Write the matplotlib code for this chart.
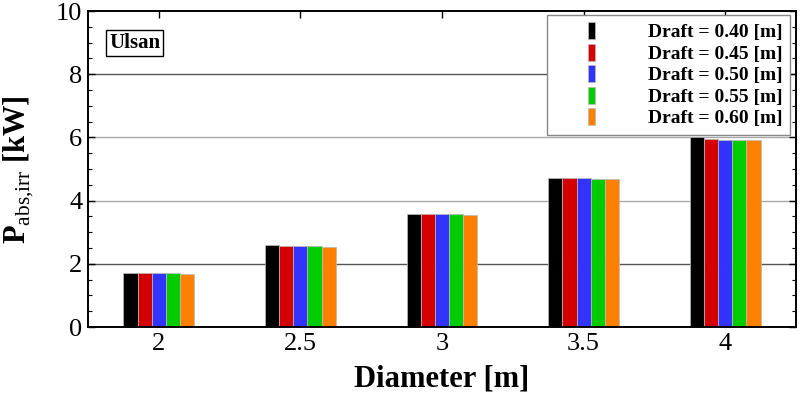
import matplotlib

matplotlib.use("Agg")
import matplotlib.pyplot as plt
import numpy as np
from matplotlib.legend_handler import HandlerPatch
from matplotlib.patches import Rectangle
from matplotlib.ticker import MultipleLocator

plt.rcParams["font.family"] = "Liberation Serif"
plt.rcParams["mathtext.fontset"] = "custom"
plt.rcParams["mathtext.rm"] = "Liberation Serif"
plt.rcParams["mathtext.bf"] = "Liberation Serif:bold"

diameters = [2.0, 2.5, 3.0, 3.5, 4.0]
draft_labels = [
    "Draft = 0.40 [m]",
    "Draft = 0.45 [m]",
    "Draft = 0.50 [m]",
    "Draft = 0.55 [m]",
    "Draft = 0.60 [m]",
]
p_draft_040 = [1.70, 2.59, 3.59, 4.73, 6.01]
p_draft_045 = [1.70, 2.56, 3.59, 4.71, 5.95]
p_draft_050 = [1.70, 2.56, 3.59, 4.71, 5.93]
p_draft_055 = [1.70, 2.56, 3.58, 4.69, 5.93]
p_draft_060 = [1.67, 2.54, 3.55, 4.69, 5.92]
series = [p_draft_040, p_draft_045, p_draft_050, p_draft_055, p_draft_060]
colors = ["#000000", "#d40000", "#3333ff", "#00cc00", "#ff8000"]


def narrow_box(legend, orig_handle, xdescent, ydescent, width, height, fontsize):
    w = 0.36 * fontsize
    h = 0.88 * fontsize
    return Rectangle(
        (-xdescent + width / 2 - w / 2, -ydescent + height / 2 - h / 2), w, h
    )


fig = plt.figure(figsize=(8, 3.96), dpi=100)
ax = fig.add_axes([0.11, 0.174, 0.885, 0.798])

bar_w = 0.05
x = np.array(diameters)
bars = []
for i, (vals, color) in enumerate(zip(series, colors)):
    b = ax.bar(
        x + (i - 2) * bar_w,
        vals,
        bar_w,
        color=color,
        edgecolor="#bbbbbb",
        linewidth=0.5,
        zorder=3,
    )
    bars.append(b)

# horizontal grid, 2 and 8 drawn darker as in the original
for yv, gc in zip([2, 4, 6, 8], ["#555555", "#aaaaaa", "#aaaaaa", "#555555"]):
    ax.axhline(yv, color=gc, linewidth=1.0, zorder=1)

ax.set_xlim(1.75, 4.25)
ax.set_ylim(0, 10)
ax.set_xticks(diameters)
ax.set_xticklabels(["2", "2.5", "3", "3.5", "4"])
ax.yaxis.set_major_locator(MultipleLocator(2))
ax.yaxis.set_minor_locator(MultipleLocator(0.5))
ax.tick_params(axis="both", which="major", direction="in", length=5, width=1,
               labelsize=19, top=True, right=True, pad=4)
ax.tick_params(axis="y", which="minor", direction="in", length=3, width=0.8,
               right=True, left=True)
for s in ax.spines.values():
    s.set_linewidth(1.4)
    s.set_zorder(4)

ax.set_xlabel("Diameter [m]", fontsize=22, fontweight="bold", labelpad=7)
ax.set_ylabel(r"$\mathbf{P}_{\mathrm{abs{,}irr}}$ [kW]", fontsize=22,
              fontweight="bold", labelpad=15)

ax.text(0.066, 0.899, "Ulsan", transform=ax.transAxes, ha="center",
        va="center", fontsize=15, fontweight="bold",
        bbox=dict(boxstyle="square,pad=0.15", facecolor="white",
                  edgecolor="black", linewidth=1.0), zorder=5)

handles = [b.patches[0] for b in bars]
leg = ax.legend(
    handles,
    draft_labels,
    loc="upper right",
    bbox_to_anchor=(0.992, 0.988),
    borderaxespad=0,
    handler_map={Rectangle: HandlerPatch(patch_func=narrow_box)},
    handlelength=3.8,
    handleheight=0.9,
    handletextpad=1.0,
    labelspacing=0.14,
    borderpad=0.4,
    fancybox=False,
    framealpha=1,
    edgecolor="#888888",
    prop={"family": "Liberation Serif", "weight": "bold", "size": 14},
)
leg.get_frame().set_linewidth(1.0)
leg.set_zorder(6)

fig.savefig("out.png", dpi=100)
